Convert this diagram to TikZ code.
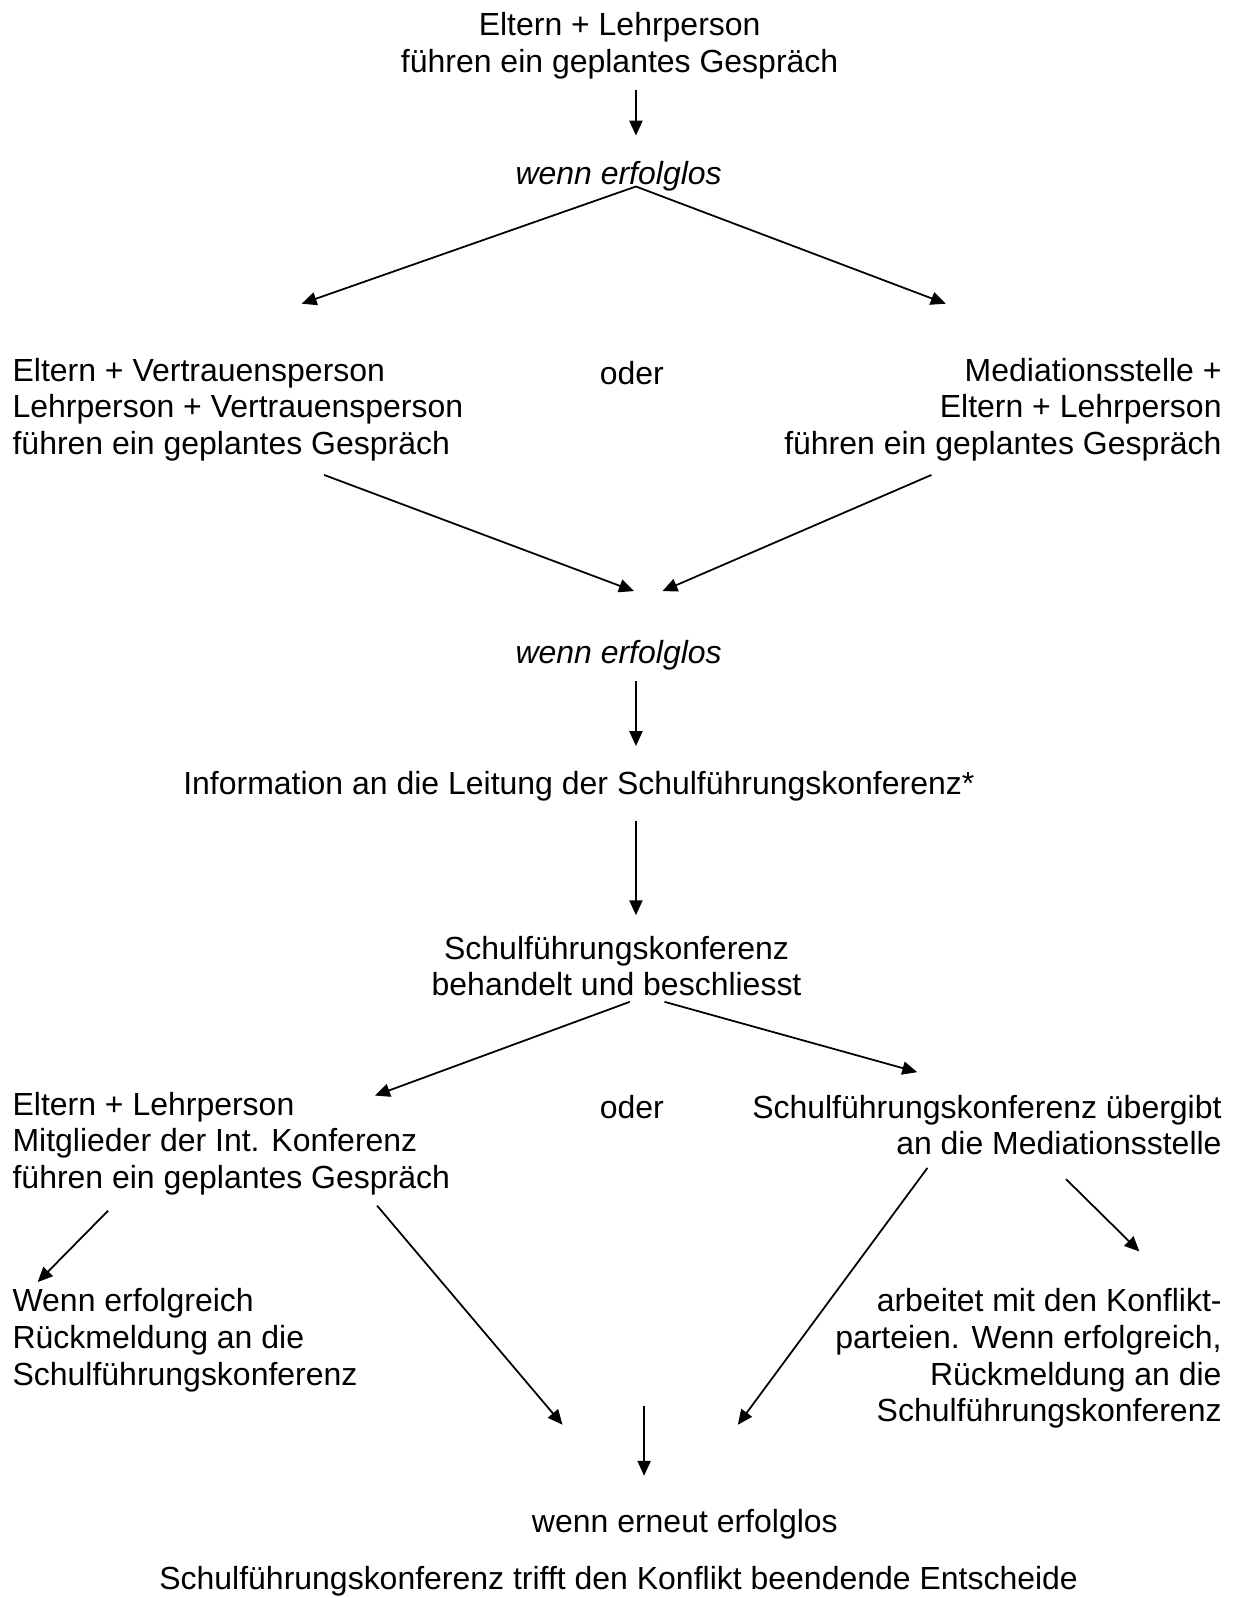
\documentclass[tikz,border=0pt]{standalone}
\usepackage{fontspec}
\setmainfont{Liberation Sans}
\usetikzlibrary{arrows.meta}

\begin{document}
\begin{tikzpicture}[
    x=0.02038cm, y=-0.02038cm,
    txt/.style={font=\fontsize{18.2pt}{20.85pt}\selectfont, inner sep=0pt, align=#1},
    txt/.default=center,
    cond/.style={txt, font=\fontsize{18.2pt}{20.85pt}\selectfont\itshape},
    arr/.style={-{Triangle[length=8.5pt,width=7.5pt]}, line width=1pt}
]
\useasboundingbox (0,0) rectangle (1211,1568);

% --- First talk ---
\node[txt] (top) at (608,45) {Eltern + Lehrperson\\führen ein geplantes Gespräch};
\node[cond] (fail1) at (607,173) {wenn erfolglos};

% --- Second talk: two ways ---
\node[txt=left, anchor=west] (left1) at (12,402) {Eltern + Vertrauensperson\\Lehrperson + Vertrauensperson\\führen ein geplantes Gespräch};
\node[txt] (oder1) at (620,366) {oder};
\node[txt=right, anchor=east] (right1) at (1199,402) {Mediationsstelle +\\Eltern + Lehrperson\\führen ein geplantes Gespräch};
\node[cond] (fail2) at (607,643) {wenn erfolglos};

% --- Conference ---
\node[txt] (info) at (568,771) {Information an die Leitung der Schulführungskonferenz*};
\node[txt] (sfk) at (605,948) {Schulführungskonferenz\\behandelt und beschliesst};

% --- Third step: two ways ---
\node[txt=left, anchor=west] (left2) at (12,1122) {Eltern + Lehrperson\\Mitglieder der Int. Konferenz\\führen ein geplantes Gespräch};
\node[txt] (oder2) at (620,1086) {oder};
\node[txt=right, anchor=east] (right2) at (1199,1104) {Schulführungskonferenz übergibt\\an die Mediationsstelle};
\node[txt=left, anchor=west] (ok) at (12,1315) {Wenn erfolgreich\\Rückmeldung an die\\Schulführungskonferenz};
\node[txt=right, anchor=east] (med) at (1199,1333) {arbeitet mit den Konflikt-\\parteien. Wenn erfolgreich,\\Rückmeldung an die\\Schulführungskonferenz};

% --- End ---
\node[txt] (again) at (672,1496) {wenn erneut erfolglos};
\node[txt] (final) at (607,1552) {Schulführungskonferenz trifft den Konflikt beendende Entscheide};

% --- Arrow ends ---
\coordinate (top-s) at (624,88);   \coordinate (fail1-n) at (624,133);
\coordinate (fail1-s) at (624,183);
\coordinate (left1-n) at (296,298); \coordinate (right1-n) at (928,298);
\coordinate (left1-s) at (318,466); \coordinate (right1-s) at (914,466);
\coordinate (fail2-l) at (622,580); \coordinate (fail2-r) at (650,580);
\coordinate (fail2-s) at (624,668); \coordinate (info-n) at (624,732);
\coordinate (info-s) at (624,806);  \coordinate (sfk-n) at (624,898);
\coordinate (sfk-sl) at (618,983);  \coordinate (sfk-sr) at (652,983);
\coordinate (left2-n) at (368,1075); \coordinate (right2-n) at (900,1052);
\coordinate (left2-sl) at (106,1188); \coordinate (ok-n) at (37,1258);
\coordinate (left2-sr) at (370,1183); \coordinate (again-l) at (552,1398);
\coordinate (right2-sl) at (910,1146); \coordinate (again-r) at (724,1398);
\coordinate (right2-sr) at (1046,1157); \coordinate (med-n) at (1118,1228);
\coordinate (mid-s) at (632,1380); \coordinate (again-n) at (632,1448);

% --- Arrows ---
\draw[arr] (top-s) -- (fail1-n);
\draw[arr] (fail1-s) -- (left1-n);
\draw[arr] (fail1-s) -- (right1-n);
\draw[arr] (left1-s) -- (fail2-l);
\draw[arr] (right1-s) -- (fail2-r);
\draw[arr] (fail2-s) -- (info-n);
\draw[arr] (info-s) -- (sfk-n);
\draw[arr] (sfk-sl) -- (left2-n);
\draw[arr] (sfk-sr) -- (right2-n);
\draw[arr] (left2-sl) -- (ok-n);
\draw[arr] (left2-sr) -- (again-l);
\draw[arr] (right2-sl) -- (again-r);
\draw[arr] (right2-sr) -- (med-n);
\draw[arr] (mid-s) -- (again-n);
\end{tikzpicture}
\end{document}
